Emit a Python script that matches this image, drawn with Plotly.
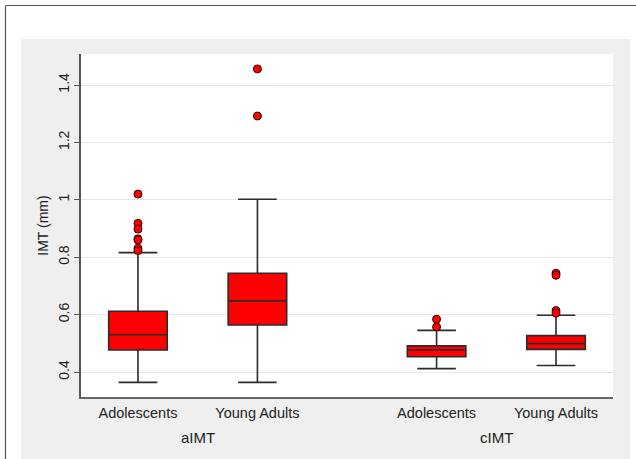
import plotly.graph_objects as go

# ---- data ----
groups = ["aIMT", "aIMT", "cIMT", "cIMT"]
categories = ["Adolescents", "Young Adults", "Adolescents", "Young Adults"]
positions = [0, 1, 2.5, 3.5]
q1 = [0.477, 0.564, 0.453, 0.479]
median = [0.530, 0.648, 0.477, 0.499]
q3 = [0.612, 0.744, 0.491, 0.527]
lowerfence = [0.364, 0.364, 0.412, 0.423]
upperfence = [0.816, 1.002, 0.545, 0.598]
outliers = [
    [1.020, 0.918, 0.898, 0.864, 0.860, 0.831, 0.823],
    [1.456, 1.292],
    [0.584, 0.557],
    [0.744, 0.737, 0.614, 0.605],
]
group_labels = ["aIMT", "cIMT"]
group_centers = [0.5, 3.0]
ytick_vals = [0.4, 0.6, 0.8, 1.0, 1.2, 1.4]
ytick_text = ["0.4", "0.6", "0.8", "1", "1.2", "1.4"]

FONT = "Liberation Sans, Arial, sans-serif"
W, H = 636, 459
L, R, T, B = 81, 23, 54, 62
pw, ph = W - L - R, H - T - B


def px_x(x):
    return (x - L) / pw


def px_y(y):
    return (H - B - y) / ph


fig = go.Figure()
fig.add_trace(go.Box(
    x=positions, q1=q1, median=median, q3=q3,
    lowerfence=lowerfence, upperfence=upperfence,
    width=0.49, whiskerwidth=0.66,
    fillcolor="#ff0000", line=dict(color="#2b2b2b", width=1.6),
    boxpoints=False, showlegend=False, hoverinfo="skip",
))
ox, oy = [], []
for p, vals in zip(positions, outliers):
    for v in vals:
        ox.append(p)
        oy.append(v)
fig.add_trace(go.Scatter(
    x=ox, y=oy, mode="markers", showlegend=False, hoverinfo="skip",
    marker=dict(size=8, color="#ff0000", line=dict(color="#3a0000", width=1)),
))

GREY = "#efefef"
pl, pr, pt, pb = 21, 630, 39, 462   # grey panel bounds (px)
shapes = []
for (x0, x1, y0, y1) in [
    (pl, L, pt, pb),                 # left
    (W - R, pr, pt, pb),             # right
    (L, W - R, pt, T),               # top
    (L, W - R, H - B, pb),           # bottom
]:
    shapes.append(dict(type="rect", xref="paper", yref="paper", layer="below",
                       x0=px_x(x0), x1=px_x(x1), y0=px_y(y1), y1=px_y(y0),
                       fillcolor=GREY, line=dict(width=0)))
shapes += [
    dict(type="line", xref="paper", yref="paper",
         x0=px_x(5.5), x1=px_x(640), y0=px_y(5.5), y1=px_y(5.5),
         line=dict(color="#555555", width=1.2)),
    dict(type="line", xref="paper", yref="paper",
         x0=px_x(5.5), x1=px_x(5.5), y0=px_y(5.5), y1=px_y(462),
         line=dict(color="#555555", width=1.2)),
]

annotations = [
    dict(x=c, y=px_y(437), xref="x", yref="paper", text=t, showarrow=False,
         yanchor="middle", xanchor="center",
         font=dict(family=FONT, size=15, color="#222222"))
    for c, t in zip(group_centers, group_labels)
]

fig.update_layout(
    width=W, height=H,
    margin=dict(l=L, r=R, t=T, b=B),
    paper_bgcolor="white", plot_bgcolor="white",
    shapes=shapes, annotations=annotations,
    font=dict(family=FONT, size=14, color="#222222"),
    xaxis=dict(range=[-0.477, 3.977], tickvals=positions, ticktext=categories,
               showgrid=False, zeroline=False, showline=True,
               linecolor="#666666", linewidth=1.5, ticks="outside",
               ticklen=2, tickcolor="rgba(0,0,0,0)",
               tickfont=dict(family=FONT, size=14.5, color="#222222")),
    yaxis=dict(range=[0.313, 1.508], tickvals=ytick_vals, ticktext=ytick_text,
               tickangle=-90, showgrid=True, gridcolor="#e6e6e6", gridwidth=1,
               zeroline=False, showline=True, linecolor="#555555", linewidth=1.5,
               ticks="outside", ticklen=5, tickcolor="#555555",
               tickfont=dict(family=FONT, size=14, color="#222222"),
               title=dict(text="IMT (mm)", standoff=4,
                          font=dict(family=FONT, size=14, color="#222222"))),
)

fig.write_html("out.html", config={"displayModeBar": False},
               post_script="document.body.style.margin='0';document.body.style.padding='0';")
